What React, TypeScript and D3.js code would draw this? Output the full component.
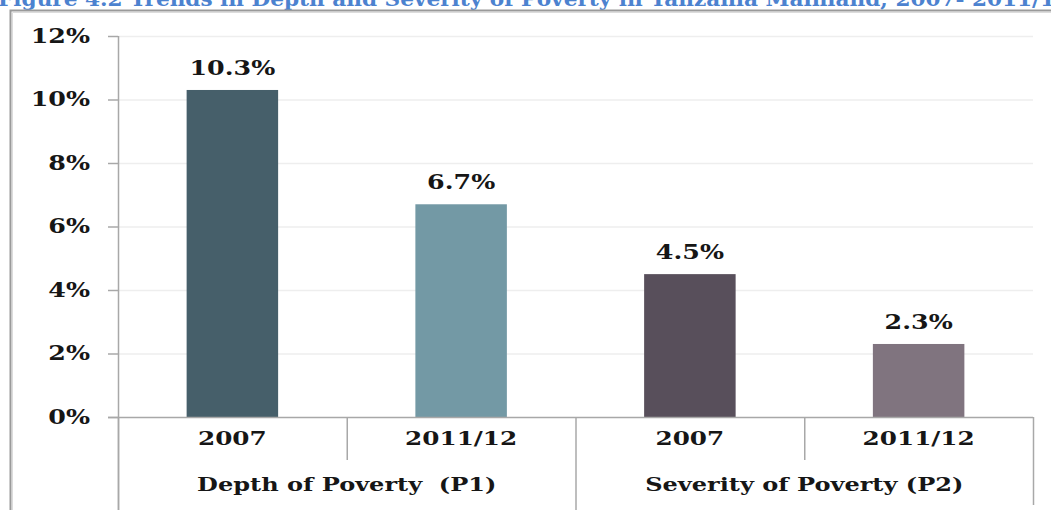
import React from "react";
import * as d3 from "d3";

const TITLE = "Figure 4.2 Trends in Depth and Severity of Poverty in Tanzania Mainland, 2007- 2011/12";
const groups = ["Depth of Poverty  (P1)", "Severity of Poverty (P2)"];
const years = ["2007", "2011/12", "2007", "2011/12"];
const groupOf = [0, 0, 1, 1];
const values = [10.3, 6.7, 4.5, 2.3];
const colors = ["#465f6a", "#7399a5", "#584f5b", "#80747f"];
const yTicks = [0, 2, 4, 6, 8, 10, 12];

const W = 1051;
const H = 510;
const SX = 1.3;
const FONT = "'DejaVu Serif', serif";
const INK = "#161616";
const AXIS = "#a8a8a8";

function SText({ x, y, children, anchor = "middle", size = 18.5, fill = INK, weight = "bold" }: any) {
  return (
    <text
      transform={`translate(${x},${y}) scale(${SX},1)`}
      textAnchor={anchor}
      fontFamily={FONT}
      fontWeight={weight}
      fontSize={size}
      fill={fill}
      style={{ whiteSpace: "pre" }}
    >
      {children}
    </text>
  );
}

export default function App() {
  const idx = values.map((_, i) => i);
  const x = d3.scaleBand<number>().domain(idx).range([118, 1033]).paddingInner(0.6).paddingOuter(0.3);
  const y = d3.scaleLinear().domain([0, 12]).range([417, 36]);
  const step = x.step();
  const left = x.range()[0];
  const right = x.range()[1];
  const y0 = y(0);

  const bounds = d3.range(values.length + 1).map((i) => ({
    xb: left + i * step,
    full: i === 0 || i === values.length || groupOf[i] !== groupOf[i - 1],
  }));

  const groupCenters = groups.map((_, g) => {
    const members = idx.filter((i) => groupOf[i] === g);
    return d3.mean(members, (i) => (x(i) as number) + x.bandwidth() / 2) as number;
  });

  return (
    <svg width={W} height={H} style={{ position: "absolute", left: 0, top: 0, display: "block", background: "#fff" }}>
      <rect x={0} y={0} width={W} height={H} fill="#fff" />
      <text
        x={-2}
        y={6}
        textLength={1072}
        lengthAdjust="spacingAndGlyphs"
        fontFamily={FONT}
        fontWeight="bold"
        fontSize={20}
        fill="#4c82cf"
      >
        {TITLE}
      </text>
      <path d={`M10.5,${H + 2} L10.5,10.5 L${W + 2},10.5`} fill="none" stroke="#9a9a9a" strokeWidth={2} />
      <path d={`M12.5,${H + 2} L12.5,12.5 L${W + 2},12.5`} fill="none" stroke="#dcdcdc" strokeWidth={1} />

      {yTicks.slice(1).map((t) => (
        <line key={"g" + t} x1={left} x2={right} y1={y(t) + 0.5} y2={y(t) + 0.5} stroke="#eeeeee" strokeWidth={1.5} />
      ))}

      <line x1={left + 0.5} x2={left + 0.5} y1={y(12)} y2={H} stroke={AXIS} strokeWidth={1.5} />
      {yTicks.map((t) => (
        <g key={"t" + t}>
          <line x1={left - 10} x2={left} y1={y(t) + 0.5} y2={y(t) + 0.5} stroke={AXIS} strokeWidth={1.5} />
          <SText x={90} y={y(t) + 6.5} anchor="end" size={19.5}>
            {`${t}%`}
          </SText>
        </g>
      ))}

      {idx.map((i) => (
        <rect
          key={"b" + i}
          x={x(i)}
          y={y(values[i])}
          width={x.bandwidth()}
          height={y0 - y(values[i])}
          fill={colors[i]}
        />
      ))}
      {idx.map((i) => (
        <SText key={"v" + i} x={(x(i) as number) + x.bandwidth() / 2} y={y(values[i]) - 15} size={19.5}>
          {`${values[i].toFixed(1)}%`}
        </SText>
      ))}

      <line x1={left - 10} x2={right} y1={y0 + 0.5} y2={y0 + 0.5} stroke={AXIS} strokeWidth={1.5} />
      {bounds.map((b, i) => (
        <line
          key={"s" + i}
          x1={b.xb + 0.5}
          x2={b.xb + 0.5}
          y1={y0}
          y2={b.full ? (i === values.length ? 505 : H) : 460}
          stroke={AXIS}
          strokeWidth={1.5}
        />
      ))}
      {idx.map((i) => (
        <SText key={"c" + i} x={(x(i) as number) + x.bandwidth() / 2} y={445} size={19}>
          {years[i]}
        </SText>
      ))}
      {groups.map((g, k) => (
        <SText key={"gr" + k} x={groupCenters[k]} y={491} size={18.5}>
          {g}
        </SText>
      ))}
    </svg>
  );
}
